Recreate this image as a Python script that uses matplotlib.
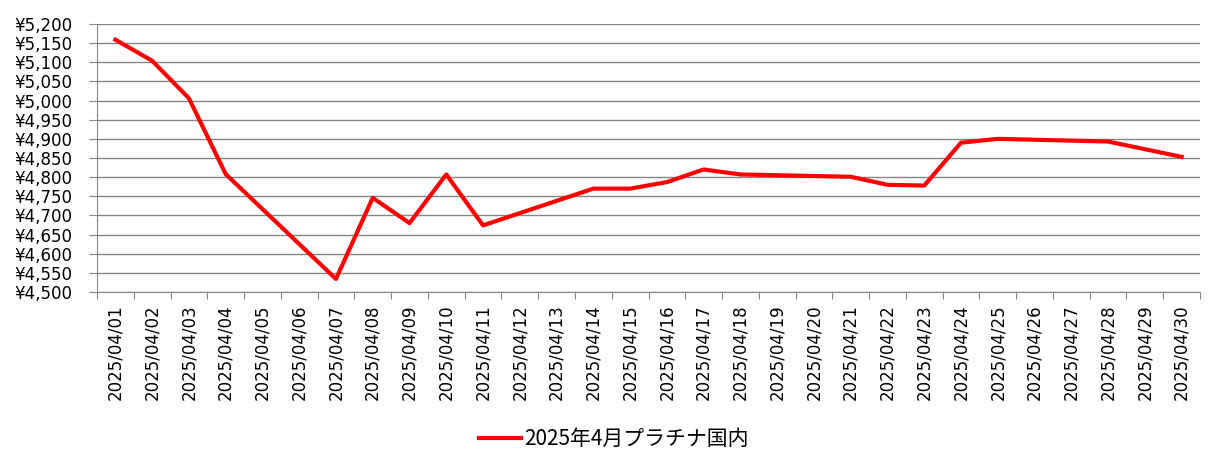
import matplotlib.pyplot as plt
import numpy as np

plt.rcParams['font.family'] = ['DejaVu Sans', 'Noto Sans CJK JP']

# Data (None = no quote that day, line connects across)
dates = ['2025/04/%02d' % d for d in range(1, 31)]
prices = [5159, 5104, 5006, 4808, None, None, 4534, 4746, 4680, 4807,
          4674, None, None, 4770, 4770, 4787, 4820, 4807, None, None,
          4801, 4780, 4778, 4890, 4900, None, None, 4893, None, 4853]
series_name = '2025年4月プラチナ国内'
y_ticks = list(range(4500, 5201, 50))

x = [i for i, p in enumerate(prices) if p is not None]
y = [p for p in prices if p is not None]

fig = plt.figure(figsize=(12.21, 4.71), dpi=100)
ax = fig.add_axes([97 / 1221, 1 - 292 / 471, (1200 - 97) / 1221, (292 - 24) / 471])

ax.plot(x, y, color='#FF0000', linewidth=3, label=series_name, solid_joinstyle='round')

# Axes
ax.set_xlim(-0.5, len(dates) - 0.5)
ax.set_ylim(4500, 5200)
ax.set_yticks(y_ticks)
ax.set_yticklabels(['¥{:,}'.format(v) for v in y_ticks], fontsize=12)
ax.set_xticks(np.arange(-0.5, len(dates), 1.0))
ax.set_xticklabels([])
ax.set_xticks(range(len(dates)), minor=True)
ax.set_xticklabels(dates, minor=True, rotation=90, fontsize=12)
ax.tick_params(axis='x', which='minor', length=0, pad=9)
ax.tick_params(axis='x', which='major', length=5, color='#868686', direction='out')
ax.tick_params(axis='y', length=6, color='#868686', direction='out', pad=12)

ax.grid(axis='y', color='#868686', linewidth=1)
ax.set_axisbelow(True)
for side in ['top', 'right']:
    ax.spines[side].set_visible(False)
for side in ['left', 'bottom']:
    ax.spines[side].set_color('#868686')

# Legend
fig.legend(loc='center', bbox_to_anchor=(614 / 1221, 1 - 439 / 471), frameon=False,
           prop={'family': 'Noto Sans CJK JP', 'size': 15},
           handlelength=2.0, handletextpad=0.2)

fig.savefig('out.png', dpi=100)
